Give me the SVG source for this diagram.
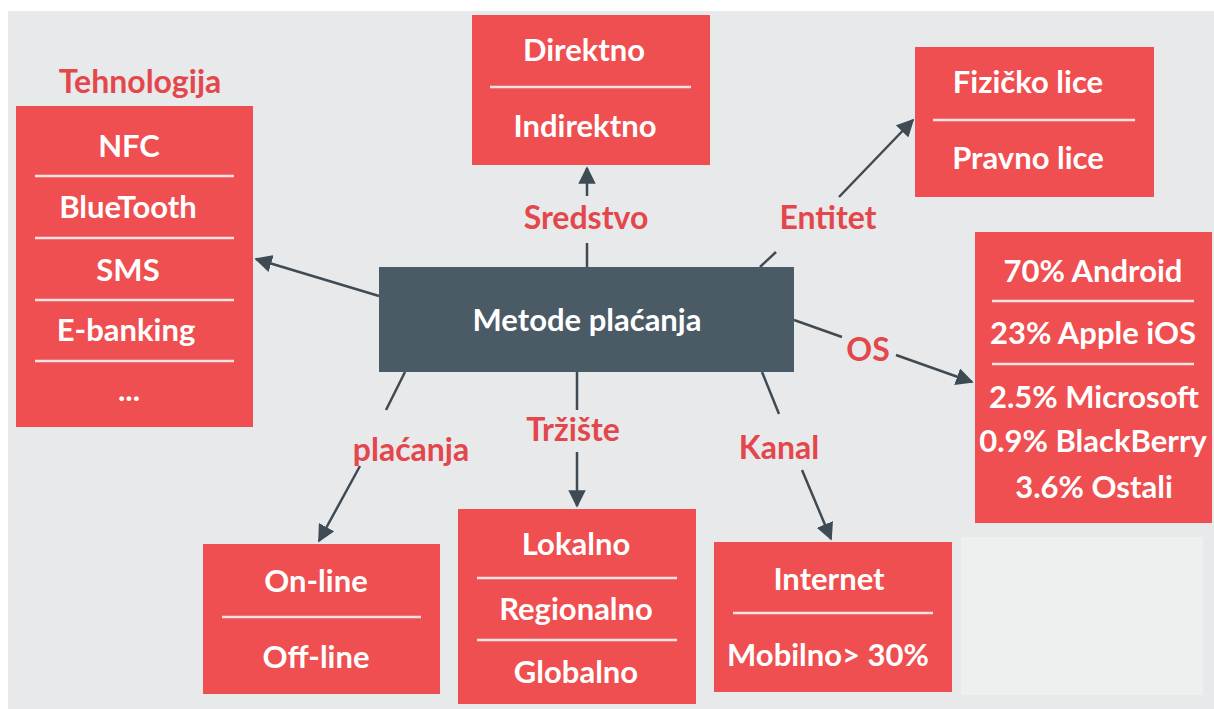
<svg xmlns="http://www.w3.org/2000/svg" width="1214" height="709" viewBox="0 0 1214 709">
<defs>
<style>
.box{fill:#ef4f50}
.t{font-family:Lato,"Open Sans","Liberation Sans",sans-serif;font-weight:700;font-size:31px;fill:#ffffff;text-anchor:middle}
.lbl{font-family:Lato,"Open Sans","Liberation Sans",sans-serif;font-weight:700;font-size:32px;fill:#e3474c;text-anchor:middle}
.div{stroke:#fbe3e3;stroke-width:2.5}
.c{stroke:#3f4b54;stroke-width:2.5;fill:none}
</style>
<marker id="ah" viewBox="0 0 10 10" refX="9" refY="5" markerWidth="7" markerHeight="7" markerUnits="strokeWidth" orient="auto">
<path d="M0,0 L10,5 L0,10 z" fill="#3f4b54"/>
</marker>
</defs>
<rect x="0" y="0" width="1214" height="709" fill="#ffffff"/>
<rect x="8" y="11" width="1206" height="698" fill="#e8e9eb"/>
<rect x="961" y="537" width="242" height="158" fill="#eeefef"/>

<g id="connectors">
<line class="c" x1="379" y1="296" x2="256" y2="259" marker-end="url(#ah)"/>
<line class="c" x1="587" y1="267" x2="587" y2="243"/>
<line class="c" x1="587" y1="196" x2="587" y2="168" marker-end="url(#ah)"/>
<line class="c" x1="760" y1="267" x2="776" y2="252"/>
<line class="c" x1="839" y1="197" x2="913" y2="120" marker-end="url(#ah)"/>
<line class="c" x1="794" y1="320" x2="842" y2="337"/>
<line class="c" x1="896" y1="355" x2="972" y2="382" marker-end="url(#ah)"/>
<line class="c" x1="405" y1="372" x2="386" y2="410"/>
<line class="c" x1="360" y1="466" x2="319" y2="541" marker-end="url(#ah)"/>
<line class="c" x1="577" y1="372" x2="577" y2="410"/>
<line class="c" x1="577" y1="452" x2="577" y2="506" marker-end="url(#ah)"/>
<line class="c" x1="762" y1="372" x2="779" y2="414"/>
<line class="c" x1="802" y1="470" x2="831" y2="539" marker-end="url(#ah)"/>
</g>

<g id="edge-labels">
<text class="lbl" x="140" y="93">Tehnologija</text>
<text class="lbl" x="586" y="229">Sredstvo</text>
<text class="lbl" x="828" y="229">Entitet</text>
<text class="lbl" x="868" y="361">OS</text>
<text class="lbl" x="411" y="461">plaćanja</text>
<text class="lbl" x="573" y="441">Tržište</text>
<text class="lbl" x="779" y="459">Kanal</text>
</g>

<g id="center">
<rect x="379" y="267" width="415" height="105" fill="#4a5b66"/>
<text class="t" x="587" y="331">Metode plaćanja</text>
</g>

<g id="tehnologija">
<rect class="box" x="16" y="106" width="237" height="321"/>
<text class="t" x="129" y="157">NFC</text>
<line class="div" x1="35" y1="176" x2="234" y2="176"/>
<text class="t" x="128" y="218">BlueTooth</text>
<line class="div" x1="35" y1="238" x2="234" y2="238"/>
<text class="t" x="128" y="281">SMS</text>
<line class="div" x1="35" y1="300" x2="234" y2="300"/>
<text class="t" x="126" y="341">E-banking</text>
<line class="div" x1="35" y1="361" x2="234" y2="361"/>
<text class="t" x="129" y="401">...</text>
</g>

<g id="sredstvo">
<rect class="box" x="472" y="15" width="238" height="150"/>
<text class="t" x="584" y="61">Direktno</text>
<line class="div" x1="490" y1="87" x2="691" y2="87"/>
<text class="t" x="585" y="137">Indirektno</text>
</g>

<g id="entitet">
<rect class="box" x="915" y="47" width="239" height="150"/>
<text class="t" x="1028" y="93">Fizičko lice</text>
<line class="div" x1="933" y1="120" x2="1135" y2="120"/>
<text class="t" x="1028" y="169">Pravno lice</text>
</g>

<g id="os">
<rect class="box" x="975" y="232" width="237" height="291"/>
<text class="t" x="1093" y="282">70% Android</text>
<line class="div" x1="992" y1="301" x2="1194" y2="301"/>
<text class="t" x="1093" y="344">23% Apple iOS</text>
<line class="div" x1="992" y1="364" x2="1194" y2="364"/>
<text class="t" x="1094" y="408">2.5% Microsoft</text>
<text class="t" x="1093" y="452">0.9% BlackBerry</text>
<text class="t" x="1094" y="498">3.6% Ostali</text>
</g>

<g id="placanja">
<rect class="box" x="203" y="544" width="237" height="150"/>
<text class="t" x="316" y="592">On-line</text>
<line class="div" x1="222" y1="617" x2="421" y2="617"/>
<text class="t" x="316" y="668">Off-line</text>
</g>

<g id="trziste">
<rect class="box" x="458" y="509" width="238" height="195"/>
<text class="t" x="576" y="555">Lokalno</text>
<line class="div" x1="477" y1="578" x2="677" y2="578"/>
<text class="t" x="576" y="620">Regionalno</text>
<line class="div" x1="477" y1="640" x2="677" y2="640"/>
<text class="t" x="576" y="683">Globalno</text>
</g>

<g id="kanal">
<rect class="box" x="714" y="542" width="238" height="150"/>
<text class="t" x="829" y="590">Internet</text>
<line class="div" x1="733" y1="613" x2="933" y2="613"/>
<text class="t" x="828" y="666">Mobilno&gt; 30%</text>
</g>
</svg>
